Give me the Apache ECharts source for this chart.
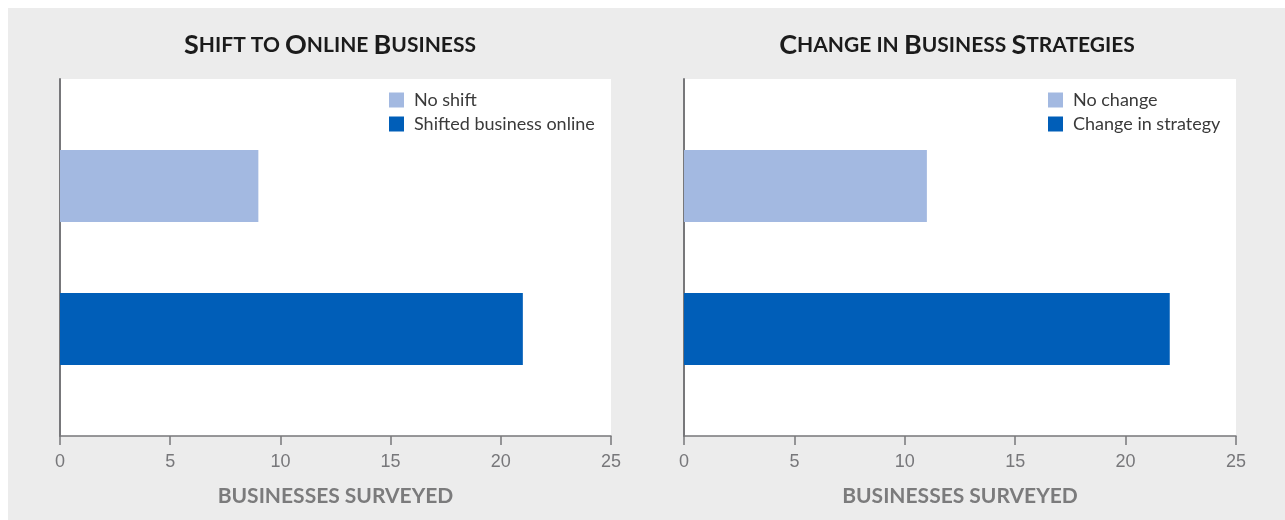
<!DOCTYPE html>
<html>
<head>
<meta charset="utf-8">
<script src="https://cdn.jsdelivr.net/npm/echarts@6/dist/echarts.min.js"></script>
<style>
  html, body { margin: 0; padding: 0; background: #ffffff; }
  #chart { position: absolute; left: 8px; top: 8px; width: 1277px; height: 512px; }
</style>
</head>
<body>
<div id="chart"></div>
<script>
// Survey results: two horizontal bar panels
const categories = ['No', 'Yes'];
const axisTicks = [0, 5, 10, 15, 20, 25];
const axisName = 'BUSINESSES SURVEYED';

const shiftTitle = 'Shift to Online Business';
const shiftNames = ['No shift', 'Shifted business online'];
const shiftValues = [9, 21];

const strategyTitle = 'Change in Business Strategies';
const strategyNames = ['No change', 'Change in strategy'];
const strategyValues = [11, 22];

const colors = ['#a3b9e1', '#005eb8'];

// Small-caps title built from rich text: capitals larger, rest uppercased smaller
function smallCaps(text) {
  return text.split(' ').map(function (w) {
    const first = w.charAt(0);
    const rest = w.slice(1).toUpperCase();
    if (first === first.toUpperCase()) {
      return '{big|' + first + '}' + (rest ? '{sm|' + rest + '}' : '');
    }
    return '{sm|' + w.toUpperCase() + '}';
  }).join('{sm| }');
}

const titleFont = 'Lato, "Open Sans", sans-serif';
const bodyFont = 'Lato, "Open Sans", sans-serif';

const axisMax = axisTicks[axisTicks.length - 1];
const axisStep = axisTicks[1] - axisTicks[0];

const panels = [
  { left: 52, width: 551, title: shiftTitle, titleX: 317, names: shiftNames, values: shiftValues, legendLeft: 381 },
  { left: 676, width: 552, title: strategyTitle, titleX: 944, names: strategyNames, values: strategyValues, legendLeft: 1040 }
];

const frameTop = 71, frameHeight = 357;
const barTop = 106.5, barHeight = 286;

const option = {
  backgroundColor: '#ececec',
  animation: false,
  title: [],
  legend: [],
  grid: [],
  xAxis: [],
  yAxis: [],
  series: []
};

panels.forEach(function (p, i) {
  option.title.push({
    text: smallCaps(p.title),
    left: p.titleX,
    top: 19,
    textAlign: 'center',
    textStyle: {
      rich: {
        big: { fontFamily: titleFont, fontWeight: 'bold', fontSize: 27, color: '#1b1b1b' },
        sm: { fontFamily: titleFont, fontWeight: 'bold', fontSize: 21, color: '#1b1b1b' }
      }
    }
  });

  // frame grid: white plot area with the value axis
  const fg = option.grid.length;
  option.grid.push({
    left: p.left, width: p.width, top: frameTop, height: frameHeight,
    show: true, backgroundColor: '#ffffff', borderWidth: 0
  });
  option.xAxis.push({
    gridIndex: fg, type: 'value', min: 0, max: axisMax, interval: axisStep,
    name: axisName, nameLocation: 'middle', nameGap: 50,
    nameTextStyle: { fontFamily: bodyFont, fontWeight: 'bold', fontSize: 21, color: '#7b7b7c' },
    axisLine: { show: true, lineStyle: { color: '#77777a', width: 1.5 } },
    axisTick: { show: true, length: 9, lineStyle: { color: '#77777a', width: 1.5 } },
    axisLabel: { margin: 17, fontFamily: '"Liberation Sans", Arial, sans-serif', fontSize: 18, color: '#77777a' },
    splitLine: { show: false }
  });
  option.yAxis.push({
    gridIndex: fg, type: 'category', data: categories,
    axisLine: { show: true, lineStyle: { color: '#77777a', width: 2 } },
    axisTick: { show: false }, axisLabel: { show: false }, splitLine: { show: false }
  });

  // bar grid: same horizontal scale, bars placed in the inner band
  const bg = option.grid.length;
  option.grid.push({
    left: p.left, width: p.width, top: barTop, height: barHeight, show: false
  });
  option.xAxis.push({
    gridIndex: bg, type: 'value', min: 0, max: axisMax, interval: axisStep, show: false
  });
  option.yAxis.push({
    gridIndex: bg, type: 'category', data: categories, inverse: true, show: false
  });

  p.names.forEach(function (name, k) {
    const data = categories.map(function (c, j) { return j === k ? p.values[k] : '-'; });
    option.series.push({
      type: 'bar', name: name, xAxisIndex: bg, yAxisIndex: bg,
      data: data, barWidth: 72, barGap: '-100%',
      itemStyle: { color: colors[k] }
    });
  });

  option.legend.push({
    data: p.names, orient: 'vertical', left: p.legendLeft, top: 83, padding: 0,
    itemWidth: 15, itemHeight: 15, itemGap: 6, icon: 'rect',
    textStyle: { fontFamily: bodyFont, fontSize: 18, color: '#3a3a3a', padding: [0, 0, 0, 5] },
    selectedMode: false
  });
});

const chart = echarts.init(document.getElementById('chart'), null, { renderer: 'canvas' });
chart.setOption(option);
</script>
</body>
</html>
